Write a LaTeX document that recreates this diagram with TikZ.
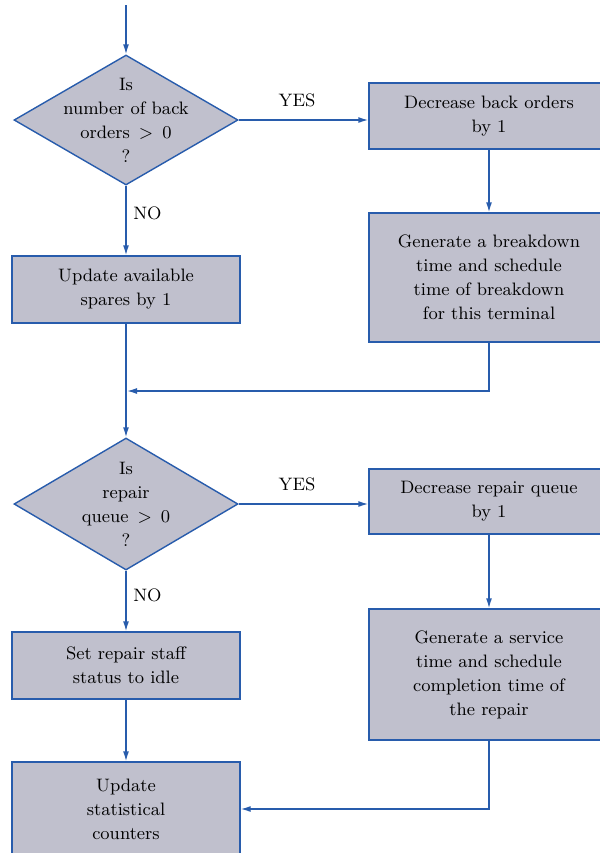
\documentclass[tikz,border=0pt]{standalone}
\usetikzlibrary{positioning,arrows.meta,shapes.geometric}
\definecolor{cFill}{RGB}{192,192,205}
\definecolor{cLine}{RGB}{40,92,172}

\begin{document}
\begin{tikzpicture}[x=0.5pt,y=-0.5pt,
   font=\fontsize{9}{12}\selectfont,
   box/.style={draw=cLine,fill=cFill,line width=0.7pt,align=center,inner sep=2pt},
   dec/.style={draw=cLine,fill=cFill,line width=0.7pt,diamond,minimum width=112pt,inner sep=0pt},
   lbl/.style={align=center},
   ans/.style={text=black},
   arr/.style={cLine,line width=0.7pt,-{Latex[length=5pt,width=3pt]}}]
  \useasboundingbox (0,0) rectangle (600,853);
  \clip (0,0) rectangle (600,853);
  % back orders
  \coordinate (start) at (126,5);
  \node[dec,minimum height=65pt,label={[lbl]center:Is\\number of back\\orders\enspace$>$\enspace0\\?}] (dA) at (126,120) {};
  \node[box,minimum width=120pt,minimum height=33pt] (bDec) at (489,116) {Decrease back orders\\by 1};
  \node[box,minimum width=120pt,minimum height=64.5pt] (bGen) at (489,277.5) {Generate a breakdown\\time and schedule\\time of breakdown\\for this terminal};
  \node[box,minimum width=114pt,minimum height=33.5pt] (bSpare) at (126,289.5) {Update available\\spares by 1};
  \coordinate (m1) at (127,391);
  \draw[arr] (start) -- (dA);
  \draw[arr] (dA.east) -- node[ans,above=3pt,pos=0.45] {YES} (dA.east -| bDec.west);
  \draw[arr] (bDec) -- (bGen);
  \draw[arr] (dA) -- node[ans,right,pos=0.4] {NO} (bSpare);
  \draw[arr] (bGen.south) |- (m1);
  % repair queue
  \node[dec,minimum height=66pt,label={[lbl]center:Is\\repair\\queue\enspace$>$\enspace0\\?}] (dB) at (126,504) {};
  \node[box,minimum width=120pt,minimum height=32.5pt] (bRq) at (489,501.5) {Decrease repair queue\\by 1};
  \node[box,minimum width=120pt,minimum height=65.5pt] (bSrv) at (489,674.5) {Generate a service\\time and schedule\\completion time of\\the repair};
  \node[box,minimum width=114pt,minimum height=33.5pt] (bIdle) at (126,665.5) {Set repair staff\\status to idle};
  \node[box,minimum width=114pt,minimum height=47pt] (bStat) at (126,809) {Update\\statistical\\counters};
  \draw[arr] (bSpare) -- (dB);
  \draw[arr] (dB.east) -- node[ans,above=3pt,pos=0.45] {YES} (dB.east -| bRq.west);
  \draw[arr] (bRq) -- (bSrv);
  \draw[arr] (dB) -- node[ans,right,pos=0.4] {NO} (bIdle);
  \draw[arr] (bIdle) -- (bStat);
  \draw[arr] (bSrv.south) |- (bStat.east);
\end{tikzpicture}
\end{document}
